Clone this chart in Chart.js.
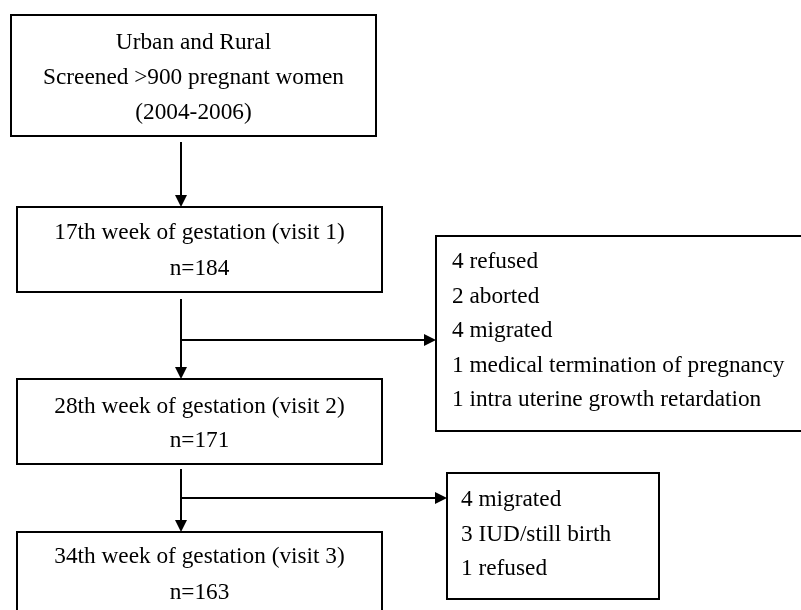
<!DOCTYPE html>
<html>
<head>
<meta charset="utf-8">
<script src="https://cdn.jsdelivr.net/npm/chart.js@4.4.1/dist/chart.umd.min.js"></script>
<style>
  body { margin: 0; background: #fff; }
  #wrap { width: 801px; height: 610px; }
</style>
</head>
<body>
<div id="wrap"><canvas id="flow" width="801" height="610"></canvas></div>
<script>
// flow data
const screenLines = ['Urban and Rural', 'Screened >900 pregnant women', '(2004-2006)'];
const stageNames = ['17th week of gestation (visit 1)', '28th week of gestation (visit 2)', '34th week of gestation (visit 3)'];
const stageN = [184, 171, 163];
const lossCounts1 = [4, 2, 4, 1, 1];
const lossReasons1 = ['refused', 'aborted', 'migrated', 'medical termination of pregnancy', 'intra uterine growth retardation'];
const lossCounts2 = [4, 3, 1];
const lossReasons2 = ['migrated', 'IUD/still birth', 'refused'];

// layout (page units, same as scale units)
const mainBoxes = [
    { x0: 11, x1: 376, y0: 15, y1: 136, first: 28, step: 35 },
    { x0: 17, x1: 382, y0: 207, y1: 292, first: 26, step: 36 },
    { x0: 17, x1: 382, y0: 379, y1: 464, first: 28, step: 34 },
    { x0: 17, x1: 382, y0: 532, y1: 640, first: 25, step: 36 }
];
const sideBoxes = [
    { x0: 436, x1: 812, y0: 236, y1: 431, first: 26, step: 34.5, tx: 452 },
    { x0: 447, x1: 659, y0: 473, y1: 599, first: 27, step: 34.5, tx: 461 }
];
const spineX = 181;
const links = [
    { x0: spineX, y0: 142, x1: spineX, y1: 207 },
    { x0: spineX, y0: 299, x1: spineX, y1: 379 },
    { x0: spineX, y0: 340, x1: 436, y1: 340 },
    { x0: spineX, y0: 469, x1: spineX, y1: 532 },
    { x0: spineX, y0: 498, x1: 447, y1: 498 }
];

function boxTexts()
{
    let main = [ screenLines ];
    stageNames.forEach(( name, i ) =>
    {
        main.push( [ name, 'n=' + stageN[i] ] );
    } );
    let side = [
        lossCounts1.map(( c, i ) => c + ' ' + lossReasons1[i] ),
        lossCounts2.map(( c, i ) => c + ' ' + lossReasons2[i] )
    ];
    return { main: main, side: side };
}

const flowPlugin = {
    id: 'flow',
    afterDraw( chart )
    {
        const ctx = chart.ctx;
        const sx = chart.scales.x;
        const sy = chart.scales.y;
        const px = ( v ) => sx.getPixelForValue( v );
        const py = ( v ) => sy.getPixelForValue( v );
        const texts = boxTexts();

        ctx.save();
        ctx.strokeStyle = '#000';
        ctx.fillStyle = '#000';
        ctx.lineWidth = 2;
        ctx.font = '23.3px "Liberation Serif", "Times New Roman", serif';
        ctx.textBaseline = 'middle';

        mainBoxes.forEach(( b, i ) =>
        {
            ctx.strokeRect( px(b.x0), py(b.y0), px(b.x1) - px(b.x0), py(b.y1) - py(b.y0) );
            ctx.textAlign = 'center';
            const cx = px( (b.x0 + b.x1) / 2 );
            texts.main[i].forEach(( line, j ) =>
            {
                ctx.fillText( line, cx, py( b.y0 + b.first + j * b.step ) );
            } );
        } );

        sideBoxes.forEach(( b, i ) =>
        {
            ctx.strokeRect( px(b.x0), py(b.y0), px(b.x1) - px(b.x0), py(b.y1) - py(b.y0) );
            ctx.textAlign = 'left';
            texts.side[i].forEach(( line, j ) =>
            {
                ctx.fillText( line, px(b.tx), py( b.y0 + b.first + j * b.step ) );
            } );
        } );

        // connectors with filled arrow heads
        links.forEach(( l ) =>
        {
            const x0 = px(l.x0), y0 = py(l.y0), x1 = px(l.x1), y1 = py(l.y1);
            const ang = Math.atan2( y1 - y0, x1 - x0 );
            const len = 12, half = 6;
            ctx.beginPath();
            ctx.moveTo( x0, y0 );
            ctx.lineTo( x1 - Math.cos(ang) * len, y1 - Math.sin(ang) * len );
            ctx.stroke();
            ctx.beginPath();
            ctx.moveTo( x1, y1 );
            ctx.lineTo( x1 - Math.cos(ang) * len - Math.sin(ang) * half, y1 - Math.sin(ang) * len + Math.cos(ang) * half );
            ctx.lineTo( x1 - Math.cos(ang) * len + Math.sin(ang) * half, y1 - Math.sin(ang) * len - Math.cos(ang) * half );
            ctx.closePath();
            ctx.fill();
        } );

        ctx.restore();
    }
};

new Chart( document.getElementById('flow'), {
    type: 'scatter',
    data: { datasets: [ { data: [], pointRadius: 0 } ] },
    options: {
        responsive: false,
        animation: false,
        devicePixelRatio: 1,
        layout: { padding: 0 },
        plugins: { legend: { display: false }, tooltip: { enabled: false } },
        scales: {
            x: { type: 'linear', min: 0, max: 801, display: false },
            y: { type: 'linear', min: 0, max: 610, reverse: true, display: false }
        }
    },
    plugins: [ flowPlugin ]
} );
</script>
</body>
</html>
